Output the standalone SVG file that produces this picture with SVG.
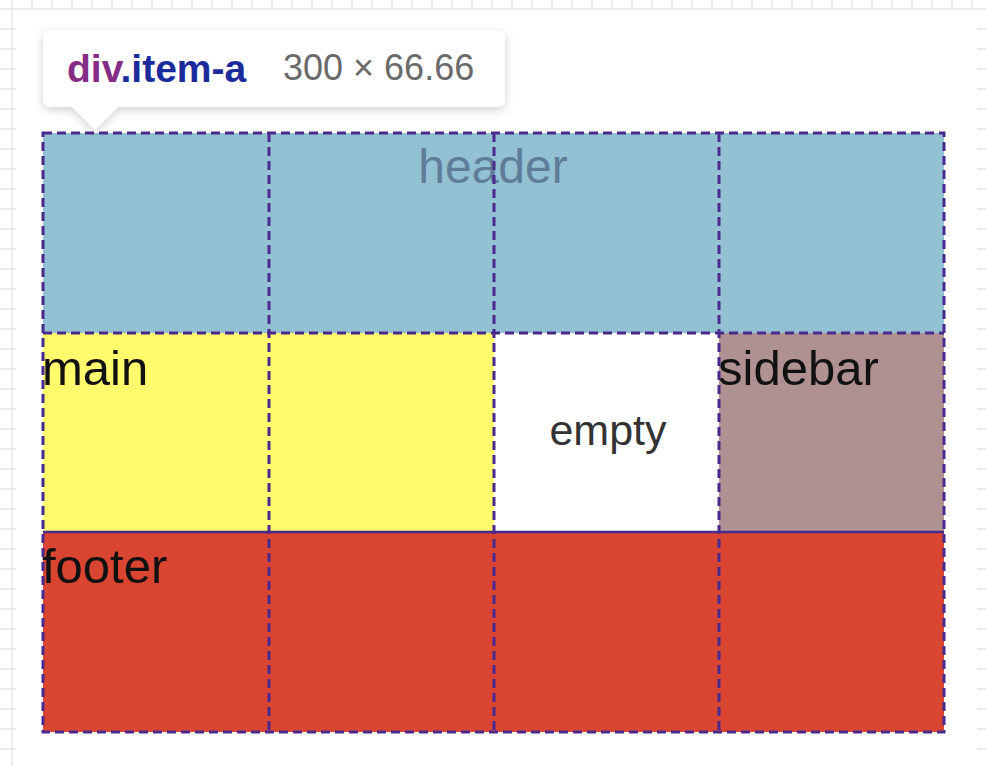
<svg xmlns="http://www.w3.org/2000/svg" width="986" height="766" viewBox="0 0 986 766">
<defs>
<style>
.bg{stroke:#e6e6e6;stroke-width:1.5;fill:none}
.dash{stroke:#4a2a8c;stroke-width:3;stroke-dasharray:9 5;fill:none}
.solid{stroke:#4a2a8c;stroke-width:2.5;fill:none}
.lbl{font-family:"Liberation Sans",Arial,sans-serif;font-size:49px;fill:#111}
</style>
<filter id="sh" x="-10%" y="-30%" width="120%" height="170%">
<feDropShadow dx="0" dy="3" stdDeviation="5" flood-color="#000" flood-opacity="0.18"/>
</filter>
</defs>
<rect width="986" height="766" fill="#fff"/>
<g id="background-grid">
<path class="bg" d="M0 9H986 M12 0V766 M32 0V9 M52 0V9 M72 0V9 M92 0V9 M112 0V9 M132 0V9 M152 0V9 M172 0V9 M192 0V9 M212 0V9 M232 0V9 M252 0V9 M272 0V9 M292 0V9 M312 0V9 M332 0V9 M352 0V9 M372 0V9 M392 0V9 M412 0V9 M432 0V9 M452 0V9 M472 0V9 M492 0V9 M512 0V9 M532 0V9 M552 0V9 M572 0V9 M592 0V9 M612 0V9 M632 0V9 M652 0V9 M672 0V9 M692 0V9 M712 0V9 M732 0V9 M752 0V9 M772 0V9 M792 0V9 M812 0V9 M832 0V9 M852 0V9 M872 0V9 M892 0V9 M912 0V9 M932 0V9 M952 0V9 M972 0V9"/>
<path class="bg" d="M0 29H16 M0 49H16 M0 69H16 M0 89H16 M0 109H16 M0 129H16 M0 149H16 M0 169H16 M0 189H16 M0 209H16 M0 229H16 M0 249H16 M0 269H16 M0 289H16 M0 309H16 M0 329H16 M0 349H16 M0 369H16 M0 389H16 M0 409H16 M0 429H16 M0 449H16 M0 469H16 M0 489H16 M0 509H16 M0 529H16 M0 549H16 M0 569H16 M0 589H16 M0 609H16 M0 629H16 M0 649H16 M0 669H16 M0 689H16 M0 709H16 M0 729H16 M0 749H16"/>
<path class="bg" d="M977 29H986 M977 49H986 M977 69H986 M977 89H986 M977 109H986 M977 129H986 M977 149H986 M977 169H986 M977 189H986 M977 209H986 M977 229H986 M977 249H986 M977 269H986 M977 289H986 M977 309H986 M977 329H986 M977 349H986 M977 369H986 M977 389H986 M977 409H986 M977 429H986 M977 449H986 M977 469H986 M977 489H986 M977 509H986 M977 529H986 M977 549H986 M977 569H986 M977 589H986 M977 609H986 M977 629H986 M977 649H986 M977 669H986 M977 689H986 M977 709H986 M977 729H986 M977 749H986"/>
</g>
<g id="header">
<rect x="43" y="133" width="901" height="200" fill="#93c1d4"/>
<text x="493" y="183" text-anchor="middle" class="lbl" style="font-size:48px;fill:#5f7d98">header</text>
</g>
<g id="main">
<rect x="43" y="333" width="451" height="199" fill="#fffb6c"/>
<text x="42" y="385" class="lbl">main</text>
</g>
<g id="empty">
<rect x="494" y="333" width="225" height="199" fill="#ffffff"/>
<text x="608" y="445" text-anchor="middle" class="lbl" style="font-size:43px;fill:#333">empty</text>
</g>
<g id="sidebar">
<rect x="719" y="333" width="225" height="199" fill="#b09191"/>
<text x="718" y="385" class="lbl">sidebar</text>
</g>
<g id="footer">
<rect x="43" y="532" width="901" height="200" fill="#da4532"/>
<text x="42" y="583" class="lbl">footer</text>
</g>
<g id="grid-lines">
<rect class="dash" x="43" y="133" width="901" height="599"/>
<path class="dash" d="M43 333H944 M269 133V732 M494 133V732 M719 133V732"/>
<path class="solid" d="M43 532H944"/>
</g>
<g id="tooltip">
<path d="M51 30H497Q505 30 505 38V99Q505 107 497 107H118L95 130L72 107H51Q43 107 43 99V38Q43 30 51 30Z" fill="#fff" filter="url(#sh)"/>
<text x="67" y="82" font-family="Liberation Sans,Arial,sans-serif" font-size="39" font-weight="bold"><tspan fill="#852d86">div</tspan><tspan fill="#1b2b9c">.item-a</tspan></text>
<text x="283" y="80" font-family="Liberation Sans,Arial,sans-serif" font-size="36" fill="#6a6a6a">300 × 66.66</text>
</g>
</svg>
